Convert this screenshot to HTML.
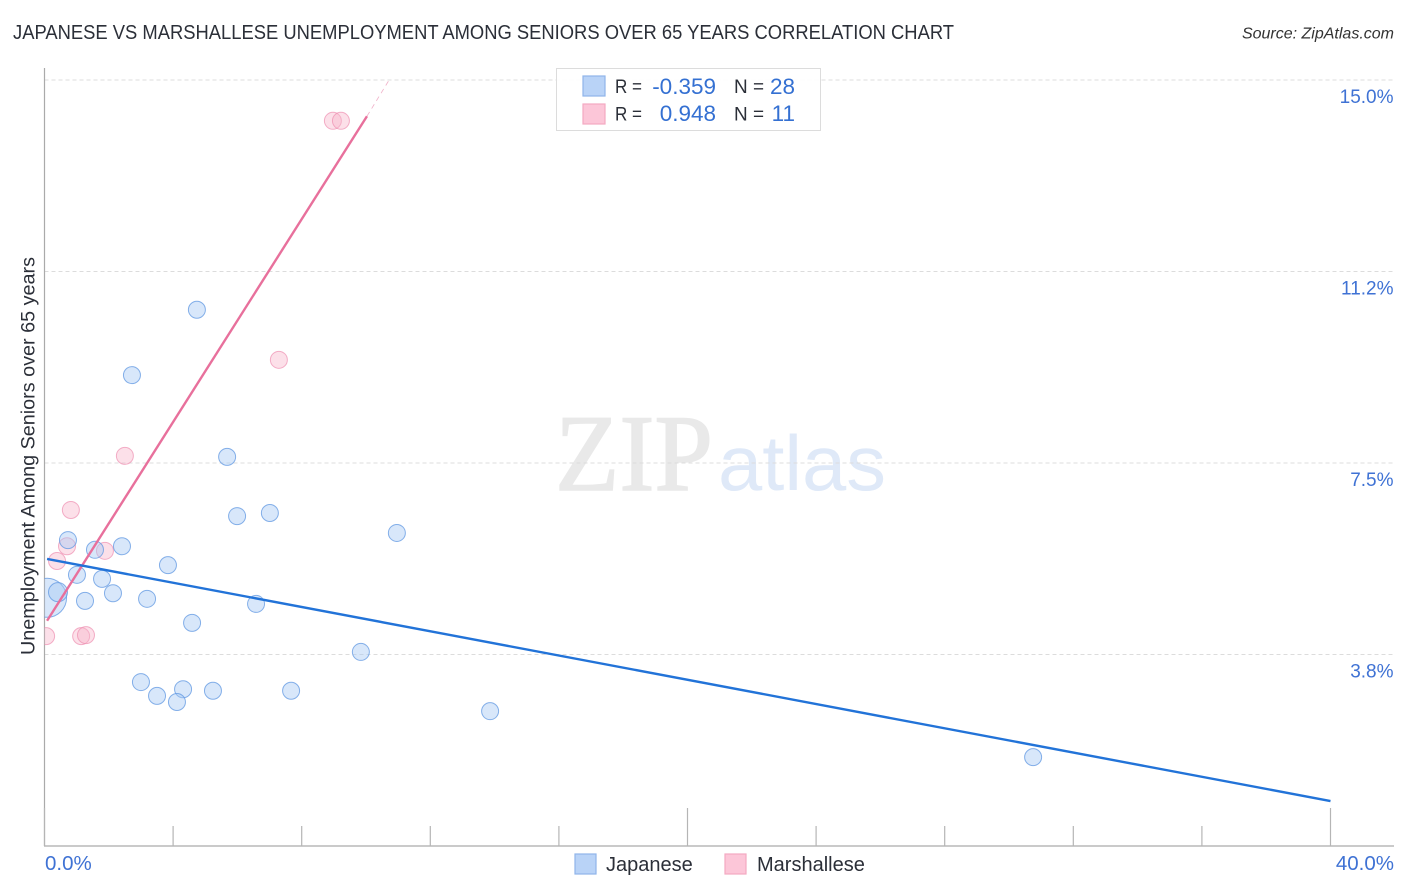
<!DOCTYPE html>
<html>
<head>
<meta charset="utf-8">
<title>Japanese vs Marshallese Unemployment Correlation Chart</title>
<style>
html,body{margin:0;padding:0;background:#fff;width:1406px;height:892px;overflow:hidden}
svg{display:block;font-family:"Liberation Sans",sans-serif}
</style>
</head>
<body>
<svg id="chart" xmlns="http://www.w3.org/2000/svg" width="1406" height="892" viewBox="0 0 1406 892">
  <defs><clipPath id="plot-clip"><rect x="44.5" y="60" width="1350" height="786"/></clipPath></defs>
  <text x="13" y="39" font-size="20" fill="#2b2f38" textLength="941" lengthAdjust="spacingAndGlyphs">JAPANESE VS MARSHALLESE UNEMPLOYMENT AMONG SENIORS OVER 65 YEARS CORRELATION CHART</text>
  <text x="1394" y="38.5" font-size="16" font-style="italic" fill="#333" text-anchor="end">Source: ZipAtlas.com</text>
  <g>
    <text x="555" y="490" font-family="'Liberation Serif',serif" font-size="109" fill="#e9e9e9" stroke="#e9e9e9" stroke-width="1.5" textLength="158" lengthAdjust="spacingAndGlyphs">ZIP</text>
    <text x="718" y="490" font-size="78" fill="#dfe9f8" textLength="168" lengthAdjust="spacingAndGlyphs">atlas</text>
  </g>
  <g id="grid"></g>
  <g id="axes"></g>
  <g id="marks" clip-path="url(#plot-clip)"></g>
  <text transform="translate(34.5,456) rotate(-90)" font-size="19.5" fill="#2b2f38" text-anchor="middle" textLength="398" lengthAdjust="spacingAndGlyphs">Unemployment Among Seniors over 65 years</text>
  <g>
    <rect x="556.5" y="68.5" width="264" height="62" fill="#fff" fill-opacity="0.9" stroke="#dcdcdc"/>
    <rect x="583" y="76" width="22" height="20" fill="#b9d3f7" stroke="#8fb5ea" stroke-width="1.2"/>
    <rect x="583" y="104" width="22" height="20" fill="#fcc6d8" stroke="#f4a9c2" stroke-width="1.2"/>
    <g font-size="19.5" fill="#2b2f38">
      <text x="615" y="93" textLength="27" lengthAdjust="spacingAndGlyphs">R =</text>
      <text x="734" y="93" textLength="30" lengthAdjust="spacingAndGlyphs">N =</text>
      <text x="615" y="120.5" textLength="27" lengthAdjust="spacingAndGlyphs">R =</text>
      <text x="734" y="120.5" textLength="30" lengthAdjust="spacingAndGlyphs">N =</text>
    </g>
    <g font-size="22.5" fill="#3470d2" text-anchor="end">
      <text x="716" y="94">-0.359</text>
      <text x="795" y="94">28</text>
      <text x="716" y="121">0.948</text>
      <text x="795" y="121">11</text>
    </g>
  </g>
  <g>
    <rect x="575" y="854" width="21" height="20" fill="#b9d3f7" stroke="#8fb5ea" stroke-width="1.2"/>
    <text x="606" y="871" font-size="20" fill="#2b2f38">Japanese</text>
    <rect x="725" y="854" width="21" height="20" fill="#fcc6d8" stroke="#f4a9c2" stroke-width="1.2"/>
    <text x="757" y="871" font-size="20" fill="#2b2f38">Marshallese</text>
  </g>
</svg>
<script>
var japaneseX = [0.08,0.42,0.73,1.57,2.41,1.01,1.79,1.26,2.13,3.19,3.84,6.58,4.59,3.00,3.50,4.31,4.12,5.24,7.67,9.84,13.86,30.75,10.96,7.01,5.99,5.68,2.72,4.74];
var japaneseY = [4.86,4.97,5.99,5.80,5.87,5.31,5.23,4.80,4.95,4.84,5.50,4.74,4.37,3.21,2.94,3.07,2.82,3.04,3.04,3.80,2.64,1.74,6.13,6.52,6.46,7.62,9.22,10.50];
var japaneseWeight = [20,10,9,9,9,9,9,9,9,9,9,9,9,9,9,9,9,9,9,9,9,9,9,9,9,9,9,9];
var marshalleseX = [0.05,1.14,1.29,0.39,0.70,1.88,0.82,2.50,7.29,8.97,9.22];
var marshalleseY = [4.11,4.11,4.13,5.58,5.87,5.78,6.58,7.64,9.52,14.20,14.20];
var marshalleseWeight = [9,9,9,9,9,9,9,9,9,9,9];
var japaneseTrendX = [0.08,40];
var japaneseTrendY = [5.62,0.88];
var marshalleseTrendX = [0.08,10.03];
var marshalleseTrendY = [4.41,14.29];
var marshalleseDashX = [10.03,10.72];
var marshalleseDashY = [14.29,15];
var yTicks = [3.75,7.5,11.25,15];
var yTickLabels = ["3.8%","7.5%","11.2%","15.0%"];
var xTicks = [0,4,8,12,16,20,24,28,32,36,40];
var xMajorTicks = [0,20,40];
var xTickLabels = ["0.0%","40.0%"];

function xScale(v){return 44.5+v*32.15;}
function yScale(v){return 846-v*51.07;}
var NS='http://www.w3.org/2000/svg';
function make(tag,parent,attrs){
  var el=document.createElementNS(NS,tag);
  for(var k in attrs){el.setAttribute(k,attrs[k]);}
  parent.appendChild(el);
  return el;
}
var grid=document.getElementById('grid');
var axes=document.getElementById('axes');
var marks=document.getElementById('marks');

yTicks.forEach(function(t,i){
  var g=make('line',grid,{x1:44.5,x2:1394,y1:yScale(t),y2:yScale(t),stroke:'#dcdcdc','stroke-width':1,'stroke-dasharray':'4 3'});
  
  
  var l=make('text',axes,{x:1393.5,y:yScale(t)+23,'font-size':19,fill:'#3f72d4','text-anchor':'end'});
  l.textContent=yTickLabels[i];
  
  
});

var yAxis=make('line',axes,{x1:44.5,x2:44.5,y1:68,y2:846,stroke:'#aaa','stroke-width':1.2});


var xAxis=make('line',axes,{x1:44,x2:1394,y1:846,y2:846,stroke:'#aaa','stroke-width':1.2});



xTicks.forEach(function(t){
  var top=xMajorTicks.indexOf(t)>=0?808:826;
  var tk=make('line',axes,{x1:xScale(t),x2:xScale(t),y1:top,y2:846,stroke:'#b5b5b5','stroke-width':1.2});
  
  
});

var xl0=make('text',axes,{x:45,y:870,'font-size':20.5,fill:'#3f72d4'});
xl0.textContent=xTickLabels[0];


var xl1=make('text',axes,{x:1394,y:870,'font-size':20.5,fill:'#3f72d4','text-anchor':'end'});
xl1.textContent=xTickLabels[1];



marshalleseX.forEach(function(x,i){
  var c=make('circle',marks,{cx:xScale(x),cy:yScale(marshalleseY[i]),r:marshalleseWeight[i]-0.5,fill:'#f8b4cb','fill-opacity':0.42,stroke:'#ee8fb0','stroke-opacity':0.7,'stroke-width':1});
  
  
});
japaneseX.forEach(function(x,i){
  var c=make('circle',marks,{cx:xScale(x),cy:yScale(japaneseY[i]),r:japaneseWeight[i]-0.5,fill:'#a9c9f3','fill-opacity':0.45,stroke:'#5f97e2','stroke-opacity':0.75,'stroke-width':1});
  
  
});

var pinkLine=make('line',marks,{x1:xScale(marshalleseTrendX[0]),y1:yScale(marshalleseTrendY[0]),x2:xScale(marshalleseTrendX[1]),y2:yScale(marshalleseTrendY[1]),stroke:'#e8709c','stroke-width':2.4});


var pinkDash=make('line',marks,{x1:xScale(marshalleseDashX[0]),y1:yScale(marshalleseDashY[0]),x2:xScale(marshalleseDashX[1]),y2:yScale(marshalleseDashY[1]),stroke:'#f0b0c8','stroke-width':0.8,'stroke-dasharray':'5 4'});


var blueLine=make('line',marks,{x1:xScale(japaneseTrendX[0]),y1:yScale(japaneseTrendY[0]),x2:xScale(japaneseTrendX[1]),y2:yScale(japaneseTrendY[1]),stroke:'#2273d8','stroke-width':2.4});


</script>
</body>
</html>
